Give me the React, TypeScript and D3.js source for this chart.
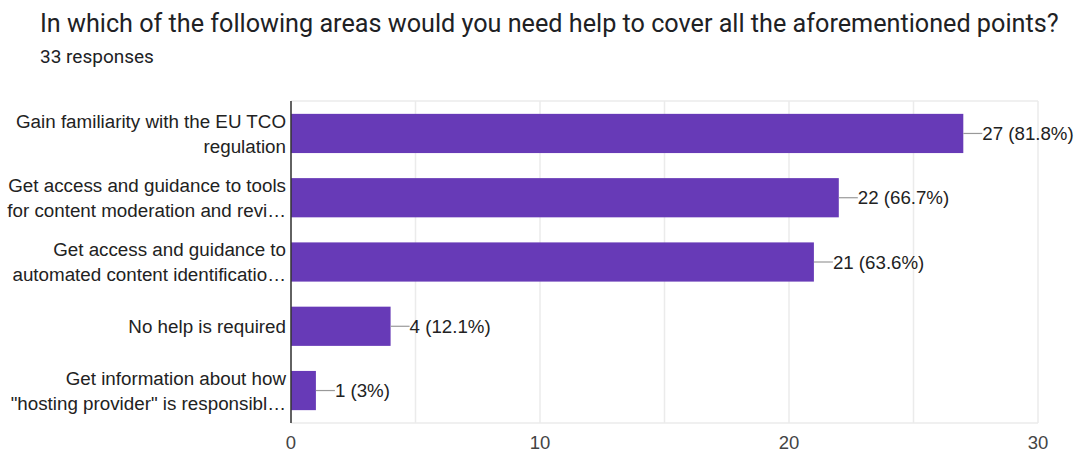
import React from "react";
import * as d3 from "d3";

const categories: string[][] = [
  ["Gain familiarity with the EU TCO", "regulation"],
  ["Get access and guidance to tools", "for content moderation and revi…"],
  ["Get access and guidance to", "automated content identificatio…"],
  ["No help is required"],
  ["Get information about how", "\"hosting provider\" is responsibl…"],
];
const counts = [27, 22, 21, 4, 1];
const percents = ["81.8%", "66.7%", "63.6%", "12.1%", "3%"];
const xTicks = [0, 10, 20, 30];
const gridTicks = [0, 5, 10, 15, 20, 25, 30];

const W = 1075;
const H = 452;
const left = 291;
const right = 1038;
const top = 101;
const bottom = 423;

export default function App() {
  const x = d3.scaleLinear().domain([0, 30]).range([left, right]);
  const y = d3
    .scaleBand<number>()
    .domain(d3.range(counts.length))
    .range([top, bottom])
    .paddingInner(0.39)
    .paddingOuter(0.2);
  const font = "Arial, 'Liberation Sans', sans-serif";
  return (
    <svg
      width={W}
      height={H}
      style={{ position: "absolute", left: 0, top: 0, background: "#fff" }}
    >
      <text x={40} y={32} fontFamily="Roboto, sans-serif" fontSize={25.2} fill="#202124">
        In which of the following areas would you need help to cover all the aforementioned points?
      </text>
      <text x={40} y={63} fontFamily="Roboto, sans-serif" fontSize={19} fill="#202124">
        33 responses
      </text>
      {gridTicks.map((t) => (
        <line key={t} x1={x(t)} x2={x(t)} y1={top} y2={bottom} stroke="#ebebeb" strokeWidth={1.5} />
      ))}
      <line x1={left} x2={right} y1={top} y2={top} stroke="#ebebeb" strokeWidth={1.5} />
      <line x1={left} x2={right} y1={bottom} y2={bottom} stroke="#ebebeb" strokeWidth={1.5} />
      {counts.map((c, i) => {
        const by = y(i)!;
        const bh = y.bandwidth();
        const cy = by + bh / 2;
        const lines = categories[i];
        const lh = 25;
        return (
          <g key={i}>
            <rect x={x(0)} y={by} width={x(c) - x(0)} height={bh} fill="#673ab7" />
            <line x1={x(c)} x2={x(c) + 19} y1={cy} y2={cy} stroke="#999" strokeWidth={1.2} />
            <text x={x(c) + 19} y={cy} dy="0.36em" fontFamily={font} fontSize={18.7} fill="#222">
              {`${c} (${percents[i]})`}
            </text>
            {lines.map((l, j) => (
              <text
                key={j}
                x={286}
                y={cy + (j - (lines.length - 1) / 2) * lh}
                dy="0.36em"
                textAnchor="end"
                fontFamily={font}
                fontSize={18.8}
                fill="#222"
              >
                {l}
              </text>
            ))}
          </g>
        );
      })}
      <line x1={left} x2={left} y1={top} y2={bottom} stroke="#333" strokeWidth={1.5} />
      {xTicks.map((t) => (
        <text
          key={t}
          x={x(t)}
          y={442}
          dy="0.36em"
          textAnchor="middle"
          fontFamily={font}
          fontSize={18.5}
          fill="#444"
        >
          {t}
        </text>
      ))}
    </svg>
  );
}
